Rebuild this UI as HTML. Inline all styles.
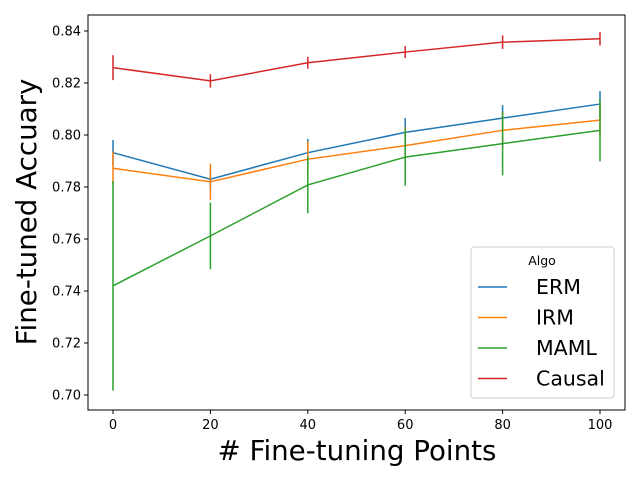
<!DOCTYPE html>
<html><head><meta charset="utf-8"><style>
body{margin:0;background:#fff;}
svg{display:block;font-family:"DejaVu Sans","Liberation Sans",sans-serif;}
</style></head><body>
<svg id="chart" width="640" height="480" xmlns="http://www.w3.org/2000/svg">
<rect width="640" height="480" fill="#fff"/>
<g id="plot"></g>
<rect x="88" y="15" width="537" height="395" fill="none" stroke="#000" stroke-width="1"/>
<g id="axes"></g>
<text x="357" y="460" font-size="27.7" text-anchor="middle"># Fine-tuning Points</text>
<text transform="translate(36,212) rotate(-90)" font-size="27.7" text-anchor="middle">Fine-tuned Accuary</text>
<g>
<rect x="471" y="247" width="143" height="151" rx="3" fill="#fff" fill-opacity="0.8" stroke="#ccc"/>
<text x="542" y="265" font-size="12.5" text-anchor="middle">Algo</text>
<g id="legend"></g>
</g>
</svg>
<script>
const xs = [0, 20, 40, 60, 80, 100];
const seriesNames = ["ERM", "IRM", "MAML", "Causal"];
const colors = ["#1f77b4", "#ff7f0e", "#2ca02c", "#d62728"];
const ermMean = [0.7932, 0.7830, 0.7932, 0.8010, 0.8065, 0.8119];
const ermErr = [0.0049, 0.0040, 0.0053, 0.0055, 0.0050, 0.0050];
const irmMean = [0.7872, 0.7820, 0.7907, 0.7959, 0.8018, 0.8057];
const irmErr = [0.0064, 0.0070, 0.0068, 0.0070, 0.0070, 0.0060];
const mamlMean = [0.7420, 0.7612, 0.7808, 0.7915, 0.7967, 0.8018];
const mamlErr = [0.0403, 0.0128, 0.0109, 0.0110, 0.0122, 0.0120];
const causalMean = [0.8259, 0.8208, 0.8278, 0.8319, 0.8357, 0.8370];
const causalErr = [0.0048, 0.0026, 0.0023, 0.0023, 0.0026, 0.0026];
const yTicks = [0.70, 0.72, 0.74, 0.76, 0.78, 0.80, 0.82, 0.84];
const xTicks = [0, 20, 40, 60, 80, 100];

const NS = "http://www.w3.org/2000/svg";
const X = v => 113 + (v - 0) * (600 - 113) / 100;
const Y = v => 395 - (v - 0.70) * 2600;
function mk(tag, attrs, parent){const e=document.createElementNS(NS,tag);for(const k in attrs)e.setAttribute(k,attrs[k]);parent.appendChild(e);return e;}

const axes = document.getElementById("axes");
yTicks.forEach(t=>{
  const l=mk("line",{x1:84,x2:88,y1:Y(t),y2:Y(t),stroke:"#000"},axes);
  
  
  const tx=mk("text",{x:81,y:Y(t)+4.5,"font-size":13,"text-anchor":"end"},axes);
  tx.textContent=t.toFixed(2);
  
  
});
xTicks.forEach(t=>{
  const l=mk("line",{x1:X(t),x2:X(t),y1:410,y2:414,stroke:"#000"},axes);
  
  
  const tx=mk("text",{x:X(t),y:429,"font-size":13,"text-anchor":"middle"},axes);
  tx.textContent=String(t);
  
  
});

const means=[ermMean,irmMean,mamlMean,causalMean];
const errs=[ermErr,irmErr,mamlErr,causalErr];
const plot=document.getElementById("plot");
means.forEach((m,i)=>{
  const g=mk("g",{},plot);
  
  
  const p=mk("polyline",{points:m.map((v,j)=>X(xs[j])+","+Y(v)).join(" "),fill:"none",stroke:colors[i],"stroke-width":1.5},g);
  
  
  m.forEach((v,j)=>{
    const e=errs[i][j];
    const b=mk("line",{x1:X(xs[j]),x2:X(xs[j]),y1:Y(v-e),y2:Y(v+e),stroke:colors[i],"stroke-width":1.5},g);
    
    
  });
});

const lg=document.getElementById("legend");
seriesNames.forEach((n,i)=>{
  const y=287+i*30.5;
  const l=mk("line",{x1:478,x2:507,y1:y,y2:y,stroke:colors[i],"stroke-width":1.5},lg);
  
  
  const t=mk("text",{x:536,y:y+7,"font-size":20.5},lg);
  t.textContent=n;
  
  
});
</script>
</body></html>
